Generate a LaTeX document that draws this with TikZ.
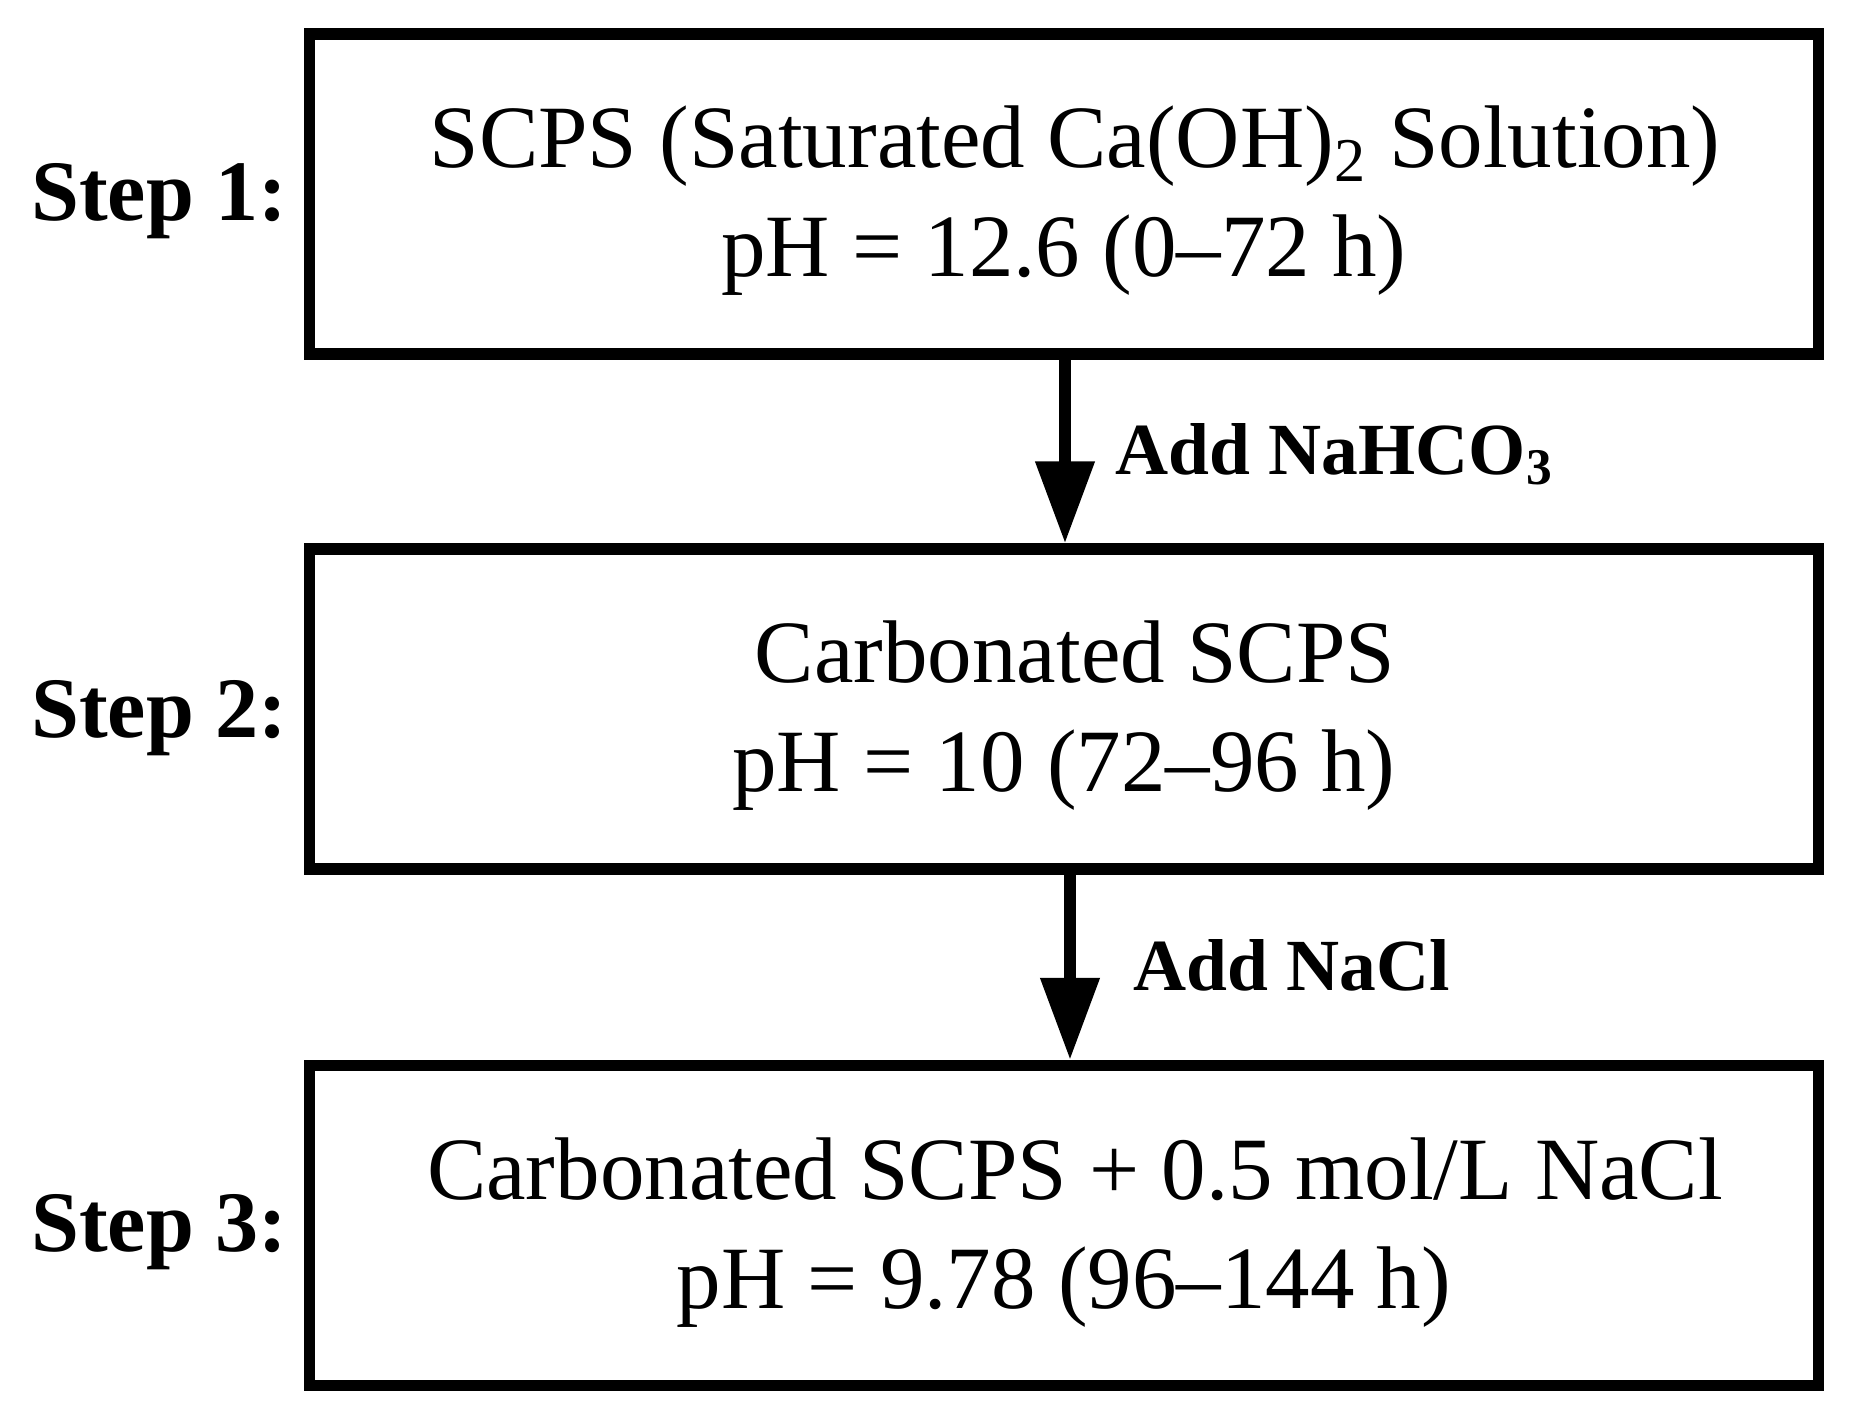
\documentclass[tikz,border=0pt]{standalone}
\usepackage{fontspec}
\setmainfont{Liberation Serif}
\usetikzlibrary{arrows.meta}
\tikzset{
  stepbox/.style={draw=black, line width=3.25pt, fill=white, minimum width=15.08cm, minimum height=3.2cm, inner sep=0pt},
  boxtext/.style={align=center, font=\fontsize{25.3pt}{31pt}\selectfont, inner sep=0pt},
  steplabel/.style={font=\fontsize{24.5pt}{28pt}\selectfont\bfseries, anchor=base east, inner sep=0pt},
  addlabel/.style={font=\fontsize{20.9pt}{24pt}\selectfont\bfseries, anchor=base west, inner sep=0pt},
  flowarrow/.style={line width=3.2pt, -{Triangle[width=16.2pt, length=23.3pt]}}
}
\begin{document}
\begin{tikzpicture}[x=0.01cm, y=-0.01cm]
\useasboundingbox (0,0) rectangle (1850,1426);
\node[stepbox] (b1) at (1064,194) {};
\node[stepbox] (b2) at (1064,709) {};
\node[stepbox] (b3) at (1064,1225.5) {};
\node[boxtext] (t1) at ([yshift=-0.07cm]b1.center) {\hspace*{0.22cm}SCPS (Saturated Ca(OH)\textsubscript{2} Solution)\\pH = 12.6 (0–72 h)};
\node[boxtext] (t2) at ([yshift=-0.07cm]b2.center) {\hspace*{0.22cm}Carbonated SCPS\\pH = 10 (72–96 h)};
\node[boxtext] (t3) at ([yshift=-0.07cm]b3.center) {\hspace*{0.22cm}Carbonated SCPS + 0.5 mol/L NaCl\\pH = 9.78 (96–144 h)};
\node[steplabel] (s1) at (288,220) {Step 1:};
\node[steplabel] (s2) at (288,737) {Step 2:};
\node[steplabel] (s3) at (288,1251) {Step 3:};
\coordinate (a1) at (1065,0);
\coordinate (a2) at (1070,0);
\draw[flowarrow] (b1.south -| a1) -- (b2.north -| a1);
\draw[flowarrow] (b2.south -| a2) -- (b3.north -| a2);
\node[addlabel] (l1) at (1115,474) {Add NaHCO\textsubscript{3}};
\node[addlabel] (l2) at (1133,990) {Add NaCl};
\end{tikzpicture}
\end{document}
